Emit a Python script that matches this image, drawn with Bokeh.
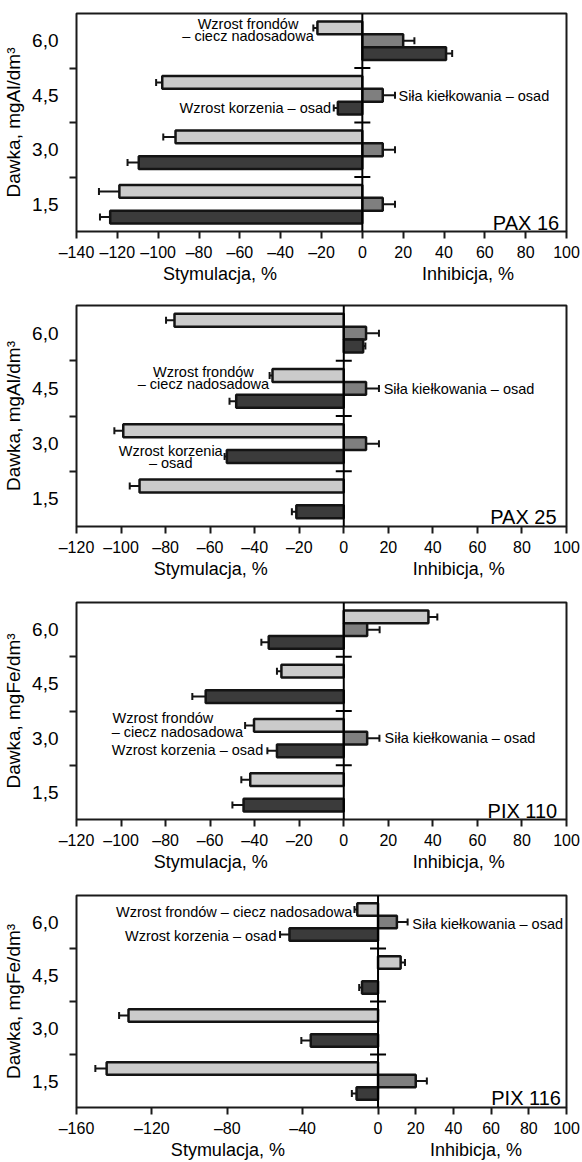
from bokeh.plotting import figure
from bokeh.layouts import column
from bokeh.models import ColumnDataSource, Range1d, FixedTicker, Span, Label, Whisker, TeeHead, Title
from bokeh.embed import file_html
from bokeh.resources import INLINE

FONT = "Liberation Sans"

# dose categories, bottom to top
DOSES = ["1,5", "3,0", "4,5", "6,0"]

SERIES = ["Wzrost frondów – ciecz nadosadowa", "Siła kiełkowania – osad", "Wzrost korzenia – osad"]
COLORS = ["#cbcbcb", "#7f7f7f", "#3b3b3b"]

# PAX 16
pax16_frondy = [-119, -91.5, -98, -22]
pax16_frondy_err = [10, 6, 3, 2]
pax16_kielk = [10, 10, 10, 20]
pax16_kielk_err = [6, 6, 6, 5.5]
pax16_korzen = [-123.5, -109.5, -12, 41]
pax16_korzen_err = [5, 5.5, 2, 3]

# PAX 25
pax25_frondy = [-91.7, -99, -32, -76]
pax25_frondy_err = [4.4, 4, 1.3, 3.8]
pax25_kielk = [None, 10, 10, 10]
pax25_kielk_err = [None, 5.8, 5.8, 5.8]
pax25_korzen = [-21.3, -52.5, -48.3, 8.7]
pax25_korzen_err = [2, 1, 3, 1]

# PIX 110
pix110_frondy = [-42, -40.3, -28, 38]
pix110_frondy_err = [4, 4, 2, 4]
pix110_kielk = [None, 10.5, None, 10.5]
pix110_kielk_err = [None, 5.5, None, 5.6]
pix110_korzen = [-45, -30, -62, -33.7]
pix110_korzen_err = [5, 4.3, 6, 3.3]

# PIX 116
pix116_frondy = [-144, -132.4, 12, -11]
pix116_frondy_err = [6, 5, 2.3, 1.5]
pix116_kielk = [20, None, None, 10]
pix116_kielk_err = [5.9, None, None, 5.7]
pix116_korzen = [-11.4, -35.7, -8.5, -47]
pix116_korzen_err = [2.5, 5, 1.5, 5]

TICKS_140 = [-140, -120, -100, -80, -60, -40, -20, 0, 20, 40, 60, 80, 100]
TICKS_120 = [-120, -100, -80, -60, -40, -20, 0, 20, 40, 60, 80, 100]
TICKS_160 = [-160, -120, -80, -40, 0, 20, 40, 60, 80, 100]

STY = "Stymulacja, %"
INH = "Inhibicja, %"
TITLE_PX = 18
# Arial / Liberation Sans advance widths (em) for the two axis titles
STY_EM = 6.335
INH_EM = 5.113
NBSP_EM = 0.278

FIG_W = 582
BORDER_L = 74
FRAME_W = 492
OFFSETS = [0.235, 0.0, -0.235]
BAR_H = 0.235
EDGE = "#141414"


def make_panel(tag, ylabel, xr, xticks, series, notes, height, top, frame_h, tag_inset_px, tag_up_px):
    p = figure(width=FIG_W, height=height, x_range=Range1d(*xr), y_range=Range1d(0.5, len(DOSES) + 0.5),
               output_backend="svg", toolbar_location=None,
               min_border_left=BORDER_L, min_border_right=FIG_W - BORDER_L - FRAME_W,
               min_border_top=top, min_border_bottom=height - top - frame_h)
    p.xgrid.visible = False
    p.ygrid.visible = False
    p.outline_line_color = "#1a1a1a"
    p.outline_line_width = 2
    p.background_fill_color = "white"
    p.border_fill_color = "white"

    xa = p.xaxis[0]
    xa.ticker = FixedTicker(ticks=xticks, minor_ticks=[])
    xa.major_label_overrides = {t: ("–" + str(-t) if t < 0 else str(t)) for t in xticks}
    xa.axis_line_color = None
    xa.major_tick_in = 0
    xa.major_tick_out = 7
    xa.major_tick_line_width = 2
    xa.major_tick_line_color = "#1a1a1a"
    xa.minor_tick_out = 0
    xa.minor_tick_in = 0
    xa.major_label_standoff = 5
    xa.major_label_text_font = FONT
    xa.major_label_text_font_size = "16px"
    xa.major_label_text_color = "black"

    ya = p.yaxis[0]
    ya.ticker = FixedTicker(ticks=list(range(1, len(DOSES) + 1)),
                            minor_ticks=[i + 1.5 for i in range(len(DOSES) - 1)])
    ya.major_label_overrides = {i + 1: d for i, d in enumerate(DOSES)}
    ya.axis_line_color = None
    ya.major_tick_in = 0
    ya.major_tick_out = 0
    ya.minor_tick_in = 0
    ya.minor_tick_out = 7
    ya.minor_tick_line_width = 2
    ya.minor_tick_line_color = "#1a1a1a"
    ya.major_label_standoff = 11
    ya.major_label_text_font = FONT
    ya.major_label_text_font_size = "19px"
    ya.major_label_text_color = "black"
    ya.axis_label = ylabel
    ya.axis_label_standoff = 5
    ya.axis_label_text_font = FONT
    ya.axis_label_text_font_size = "19px"
    ya.axis_label_text_font_style = "normal"
    ya.axis_label_text_color = "black"

    for k, (vals, errs) in enumerate(series):
        ys, vs, lo, hi = [], [], [], []
        for i, (v, e) in enumerate(zip(vals, errs)):
            if v is None:
                continue
            ys.append(i + 1 + OFFSETS[k])
            vs.append(v)
            lo.append(v - e)
            hi.append(v + e)
        src = ColumnDataSource(dict(y=ys, v=vs, lo=lo, hi=hi))
        p.hbar(y="y", left=0, right="v", height=BAR_H, source=src,
               fill_color=COLORS[k], line_color=EDGE, line_width=2.5)
        w = Whisker(source=src, base="y", lower="lo", upper="hi", dimension="width",
                    line_color=EDGE, line_width=2,
                    upper_head=TeeHead(size=7, line_width=2, line_color=EDGE),
                    lower_head=TeeHead(size=7, line_width=2, line_color=EDGE))
        p.add_layout(w)

    p.add_layout(Span(location=0, dimension="height", line_color="black", line_width=2))
    bounds = [i + 1.5 for i in range(len(DOSES) - 1)]
    p.scatter(x=[0] * len(bounds), y=bounds, marker="dash", size=16, line_color="black", line_width=2)

    for txt, x, y, align in notes:
        p.add_layout(Label(x=x, y=y, text=txt, text_align=align, text_baseline="middle",
                           text_font=FONT, text_font_size="14.5px", text_color="black"))

    # panel tag, bottom-right inside the frame
    ppu_x = FRAME_W / (xr[1] - xr[0])
    ppu_y = frame_h / len(DOSES)
    p.add_layout(Label(x=xr[1] - tag_inset_px / ppu_x, y=0.5 + tag_up_px / ppu_y, text=tag,
                       text_align="right", text_baseline="alphabetic", text_font=FONT,
                       text_font_size="20px", text_color="black"))

    # two x-axis titles, each centred under its half of the axis
    neg_c = (0 - xr[0]) / 2 * ppu_x
    pos_c = ((0 - xr[0]) + xr[1] / 2) * ppu_x
    sty_w = STY_EM * TITLE_PX
    inh_w = INH_EM * TITLE_PX
    sty_left = neg_c - sty_w / 2
    inh_left = pos_c - inh_w / 2
    n = max(1, round((inh_left - (sty_left + sty_w)) / (NBSP_EM * TITLE_PX)))
    t = Title(text=STY + "\u00a0" * n + INH, align="left", offset=sty_left, vertical_align="top",
              standoff=0, text_font=FONT, text_font_size=f"{TITLE_PX}px", text_font_style="normal",
              text_color="black")
    p.add_layout(t, "below")
    return p


p1 = make_panel("PAX 16", "Dawka, mgAl/dm³", (-140, 100), TICKS_140,
                [(pax16_frondy, pax16_frondy_err), (pax16_kielk, pax16_kielk_err), (pax16_korzen, pax16_korzen_err)],
                [("Wzrost frondów", -56, 4.30, "center"),
                 ("– ciecz nadosadowa", -56, 4.096, "center"),
                 ("Siła kiełkowania – osad", 17.7, 2.99, "left"),
                 ("Wzrost korzenia – osad", -15.3, 2.757, "right")],
                297, 13, 218, 7.4, 9)

p2 = make_panel("PAX 25", "Dawka, mgAl/dm³", (-120, 100), TICKS_120,
                [(pax25_frondy, pax25_frondy_err), (pax25_kielk, pax25_kielk_err), (pax25_korzen, pax25_korzen_err)],
                [("Wzrost frondów", -63, 3.305, "center"),
                 ("– ciecz nadosadowa", -63, 3.083, "center"),
                 ("Siła kiełkowania – osad", 17.9, 2.98, "left"),
                 ("Wzrost korzenia", -77.7, 1.87, "center"),
                 ("– osad", -77.7, 1.653, "center")],
                297, 8, 221, 10, 10)

p3 = make_panel("PIX 110", "Dawka, mgFe/dm³", (-120, 100), TICKS_120,
                [(pix110_frondy, pix110_frondy_err), (pix110_kielk, pix110_kielk_err), (pix110_korzen, pix110_korzen_err)],
                [("Wzrost frondów", -103.8, 2.362, "left"),
                 ("– ciecz nadosadowa", -104.2, 2.109, "left"),
                 ("Wzrost korzenia – osad", -104.2, 1.772, "left"),
                 ("Siła kiełkowania – osad", 18.3, 2.006, "left")],
                293, 8, 217, 9.3, 9)

p4 = make_panel("PIX 116", "Dawka, mgFe/dm³", (-160, 100), TICKS_160,
                [(pix116_frondy, pix116_frondy_err), (pix116_kielk, pix116_kielk_err), (pix116_korzen, pix116_korzen_err)],
                [("Wzrost frondów – ciecz nadosadowa", -13.7, 4.188, "right"),
                 ("Wzrost korzenia – osad", -53.9, 3.745, "right"),
                 ("Siła kiełkowania – osad", 18.2, 3.964, "left")],
                274, 8, 220, 5.6, 10)

layout = column(p1, p2, p3, p4, spacing=0)

with open("out.html", "w", encoding="utf-8") as f:
    f.write(file_html(layout, INLINE))
